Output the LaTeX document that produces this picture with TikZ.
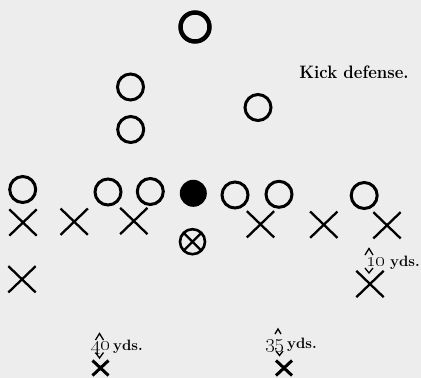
\documentclass[tikz,border=0pt]{standalone}
\usetikzlibrary{shapes.misc}
\begin{document}
\begin{tikzpicture}[x=1pt,y=-1pt,
  off/.style={circle,draw,line width=3pt,minimum size=26pt,inner sep=0pt},
  bigoff/.style={circle,draw,line width=4.5pt,minimum size=29pt,inner sep=0pt},
  ballman/.style={circle,fill,minimum size=27pt,inner sep=0pt},
  defx/.style={cross out,draw,line width=2.3pt,minimum width=25pt,minimum height=24pt,inner sep=0pt},
  smallx/.style={cross out,draw,line width=3pt,minimum width=13pt,minimum height=12pt,inner sep=0pt},
  circx/.style={circle,draw,line width=2.6pt,minimum size=25pt,inner sep=0pt,
    path picture={\draw[line width=2.3pt]
      (path picture bounding box.north west) -- (path picture bounding box.south east)
      (path picture bounding box.north east) -- (path picture bounding box.south west);}},
  lbl/.style={font=\fontsize{15}{17}\selectfont\bfseries,inner sep=0pt,anchor=base west},
  num/.style={font=\fontsize{20}{22}\selectfont\bfseries,inner sep=0pt,anchor=base west},
  caret/.style={line width=1.3pt}]
\useasboundingbox (0,0) rectangle (421,378);
\fill[white!93!black] (0,0) rectangle (421,378);

% offense
\node[bigoff] (top) at (195,27) {};
\node[off] (o1) at (130.5,87) {};
\node[off] (o2) at (130.7,129.5) {};
\node[off] (o3) at (258,107.5) {};
\node[off] (l1) at (22.7,189.5) {};
\node[off] (l2) at (108,192) {};
\node[off] (l3) at (150.3,191.5) {};
\node[ballman] (c) at (193.3,193.3) {};
\node[off] (l5) at (235,195) {};
\node[off] (l6) at (279,194.3) {};
\node[off] (l7) at (364.2,195.5) {};

% defense
\node[defx] (d1) at (23,222.5) {};
\node[defx] (d2) at (74.2,221.7) {};
\node[defx] (d3) at (133.8,221) {};
\node[defx] (d4) at (260.5,224.3) {};
\node[defx] (d5) at (323.8,224.7) {};
\node[defx] (d6) at (387,225.3) {};
\node[circx] (cx) at (192.5,241.7) {};
\node[defx] (d7) at (22,279.3) {};
\node[defx] (d8) at (370,284) {};
\node[smallx] (b1) at (100.5,368) {};
\node[smallx] (b2) at (284,368) {};

% labels
\node[font=\fontsize{18}{20}\selectfont\bfseries,xscale=0.93,inner sep=0pt,anchor=base] (title) at (354,78) {Kick defense.};
\node[num] (n10) at (366,266.5) {\oldstylenums{10}};
\node[lbl] (t10) at (390,266) {yds.};
\node[num] (n40) at (91,350.5) {\oldstylenums{40}};
\node[lbl] (t40) at (113,350) {yds.};
\node[num] (n35) at (265,348.5) {\oldstylenums{35}};
\node[lbl] (t35) at (287,348) {yds.};

% carets
\draw[caret] (365,255) -- (369,248.5) -- (373,255);
\draw[caret] (365,268) -- (369,273) -- (373,268);
\draw[caret] (95.5,340) -- (99.5,333.5) -- (103.5,340);
\draw[caret] (95.5,352.5) -- (99.5,358) -- (103.5,352.5);
\draw[caret] (275,334) -- (278,329) -- (281,334);
\draw[caret] (276,351) -- (279.5,355.5) -- (283,351);
\end{tikzpicture}
\end{document}
